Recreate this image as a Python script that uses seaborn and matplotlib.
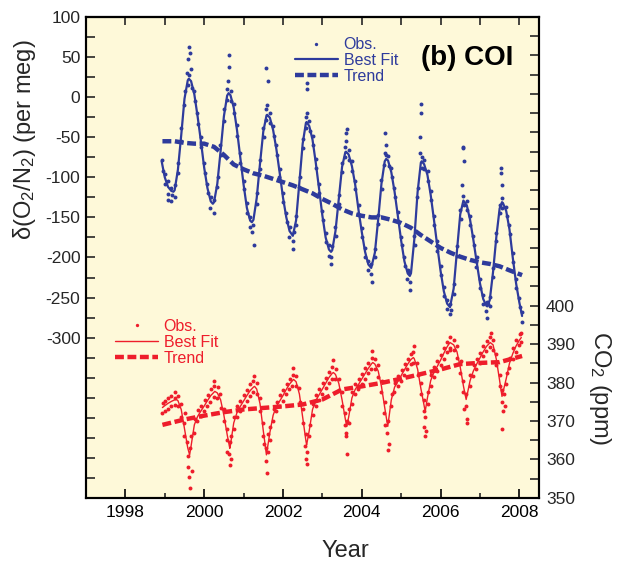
import matplotlib
matplotlib.use("Agg")
import matplotlib.pyplot as plt
import seaborn as sns
from matplotlib.lines import Line2D

# ---------------- data ----------------
o2_fit_year = [
    1998.92, 1999.0, 1999.083, 1999.167, 1999.22, 1999.25, 1999.333, 1999.417, 1999.5, 1999.583, 1999.61, 1999.667, 1999.75, 1999.833, 1999.917,
    2000.0, 2000.083, 2000.167, 2000.22, 2000.25, 2000.333, 2000.417, 2000.5, 2000.583, 2000.62, 2000.667, 2000.75, 2000.833, 2000.917,
    2001.0, 2001.083, 2001.167, 2001.21, 2001.25, 2001.333, 2001.417, 2001.5, 2001.583, 2001.6, 2001.667, 2001.75, 2001.833, 2001.917,
    2002.0, 2002.083, 2002.167, 2002.25, 2002.333, 2002.417, 2002.5, 2002.583, 2002.6, 2002.667, 2002.75, 2002.833, 2002.917,
    2003.0, 2003.083, 2003.167, 2003.22, 2003.25, 2003.333, 2003.417, 2003.5, 2003.583, 2003.6, 2003.667, 2003.75, 2003.833, 2003.917,
    2004.0, 2004.083, 2004.167, 2004.24, 2004.333, 2004.417, 2004.5, 2004.583, 2004.62, 2004.667, 2004.75, 2004.833, 2004.917,
    2005.0, 2005.083, 2005.167, 2005.22, 2005.25, 2005.333, 2005.417, 2005.5, 2005.52, 2005.583, 2005.667, 2005.75, 2005.833, 2005.917,
    2006.0, 2006.083, 2006.167, 2006.24, 2006.333, 2006.417, 2006.5, 2006.58, 2006.667, 2006.75, 2006.833, 2006.917,
    2007.0, 2007.083, 2007.167, 2007.19, 2007.25, 2007.333, 2007.417, 2007.5, 2007.56, 2007.583, 2007.667, 2007.75, 2007.833, 2007.917,
    2008.0, 2008.07]
o2_fit_val = [
    -80, -100, -112, -117, -118, -116, -90.5, -47.5, -2, 21, 23, 20, 3.5, -24, -55,
    -88, -113.5, -130, -133, -131, -108, -67, -24, 2, 5, 2.5, -13, -41, -75.5,
    -109, -138, -154, -156, -153, -126, -83, -43, -22.5, -22, -25.6, -41, -65, -94.5,
    -125, -149.6, -167, -173, -153.7, -106, -58, -32, -31, -36, -53, -82, -114.6,
    -147.6, -175, -190, -193, -191, -167, -127, -87, -68.6, -68, -71.5, -86, -109, -140.5,
    -168, -192.7, -208.7, -213, -194, -152.5, -108, -80, -77, -79, -93.6, -118, -148.5,
    -179, -204.8, -220, -223, -219.6, -178, -118.6, -81.7, -80, -83.6, -97, -122, -153, -185.6,
    -216.5, -242, -257.6, -262, -238.7, -191.5, -146, -129, -135, -153, -178, -205.6,
    -232, -251.8, -260.5, -261, -253, -218, -174, -138.8, -131, -132, -142, -165, -200, -232,
    -256, -273]

o2_trend_year = [1998.94, 1999.25, 1999.5, 1999.75, 2000.0, 2000.25, 2000.5, 2000.75, 2001.0, 2001.25,
                 2001.5, 2001.75, 2002.0, 2002.25, 2002.5, 2002.75, 2003.0, 2003.25, 2003.5, 2003.75,
                 2004.0, 2004.25, 2004.5, 2004.75, 2005.0, 2005.25, 2005.5, 2005.75, 2006.0, 2006.25,
                 2006.5, 2006.75, 2007.0, 2007.25, 2007.5, 2007.75, 2008.07]
o2_trend_val = [-55, -55, -57, -58, -58, -62, -72, -84, -90, -95,
                -98, -102, -106, -110, -115, -120, -127, -133, -140, -145,
                -148, -150, -150, -153, -157, -163, -172, -180, -188, -194,
                -199, -203, -206, -208, -211, -216, -222]

o2_obs_year = [
    1998.93, 1998.95,
    1999.00, 1999.01, 1999.07, 1999.08, 1999.09, 1999.16, 1999.17, 1999.18, 1999.25, 1999.26, 1999.33, 1999.34, 1999.41, 1999.42, 1999.50, 1999.51, 1999.57, 1999.58, 1999.59, 1999.61, 1999.62, 1999.63, 1999.67, 1999.68, 1999.75, 1999.76, 1999.83, 1999.84, 1999.91, 1999.92,
    2000.00, 2000.01, 2000.08, 2000.09, 2000.16, 2000.17, 2000.24, 2000.25, 2000.33, 2000.34, 2000.41, 2000.42, 2000.50, 2000.51, 2000.58, 2000.59, 2000.61, 2000.62, 2000.63, 2000.67, 2000.68, 2000.75, 2000.76, 2000.83, 2000.84, 2000.91, 2000.92,
    2001.00, 2001.01, 2001.08, 2001.09, 2001.16, 2001.17, 2001.22, 2001.23, 2001.26, 2001.33, 2001.34, 2001.41, 2001.42, 2001.50, 2001.51, 2001.56, 2001.57, 2001.58, 2001.60, 2001.61, 2001.67, 2001.68, 2001.75, 2001.76, 2001.83, 2001.84, 2001.91, 2001.92,
    2002.00, 2002.01, 2002.08, 2002.09, 2002.16, 2002.17, 2002.25, 2002.26, 2002.27, 2002.33, 2002.34, 2002.41, 2002.42, 2002.50, 2002.51, 2002.58, 2002.59, 2002.60, 2002.61, 2002.62, 2002.67, 2002.68, 2002.75, 2002.76, 2002.83, 2002.84, 2002.91, 2002.92,
    2003.00, 2003.01, 2003.08, 2003.09, 2003.16, 2003.17, 2003.22, 2003.23, 2003.24, 2003.33, 2003.34, 2003.41, 2003.42, 2003.50, 2003.51, 2003.57, 2003.58, 2003.59, 2003.61, 2003.62, 2003.67, 2003.68, 2003.75, 2003.76, 2003.83, 2003.84, 2003.91, 2003.92,
    2004.00, 2004.01, 2004.08, 2004.09, 2004.16, 2004.17, 2004.23, 2004.24, 2004.25, 2004.33, 2004.34, 2004.41, 2004.42, 2004.50, 2004.51, 2004.57, 2004.58, 2004.59, 2004.61, 2004.62, 2004.67, 2004.68, 2004.75, 2004.76, 2004.83, 2004.84, 2004.91, 2004.92,
    2005.00, 2005.01, 2005.08, 2005.09, 2005.16, 2005.17, 2005.21, 2005.22, 2005.23, 2005.33, 2005.34, 2005.41, 2005.42, 2005.48, 2005.49, 2005.50, 2005.51, 2005.52, 2005.53, 2005.58, 2005.59, 2005.67, 2005.68, 2005.75, 2005.76, 2005.83, 2005.84, 2005.91, 2005.92,
    2006.00, 2006.01, 2006.08, 2006.09, 2006.16, 2006.17, 2006.24, 2006.25, 2006.26, 2006.33, 2006.34, 2006.41, 2006.42, 2006.50, 2006.51, 2006.55, 2006.56, 2006.57, 2006.58, 2006.59, 2006.60, 2006.67, 2006.68, 2006.75, 2006.76, 2006.83, 2006.84, 2006.91, 2006.92,
    2007.00, 2007.01, 2007.08, 2007.09, 2007.16, 2007.17, 2007.19, 2007.20, 2007.25, 2007.26, 2007.33, 2007.34, 2007.41, 2007.42, 2007.50, 2007.51, 2007.53, 2007.54, 2007.55, 2007.56, 2007.57, 2007.67, 2007.68, 2007.75, 2007.76, 2007.83, 2007.84, 2007.91, 2007.92,
    2008.00, 2008.01, 2008.06, 2008.07]
o2_obs_val = [
    -78, -92,
    -96, -108, -128, -105, -121, -113, -130, -122, -110, -124, -95, -82, -38, -55, -10, 8, 30, 15, 47, 28, 63, 55, 35, 12, 8, -5, -20, -33, -62, -50,
    -82, -95, -108, -120, -138, -125, -145, -128, -112, -100, -60, -72, -30, -15, 10, -4, 20, 38, 52, 8, -5, -8, -20, -35, -48, -82, -70,
    -104, -115, -132, -145, -162, -150, -168, -160, -185, -120, -133, -90, -78, -38, -50, 37, -15, -28, -10, 20, -20, -32, -36, -48, -60, -72, -100, -90,
    -120, -131, -145, -156, -175, -162, -180, -190, -168, -148, -160, -112, -100, -52, -64, -25, -38, 10, -20, 18, -30, -42, -48, -60, -77, -88, -120, -108,
    -142, -153, -170, -181, -198, -185, -208, -200, -186, -162, -173, -133, -122, -82, -93, -62, -75, -45, -55, -40, -66, -78, -80, -92, -104, -115, -146, -135,
    -163, -174, -188, -199, -215, -204, -208, -220, -230, -189, -200, -158, -147, -103, -114, -85, -70, -45, -60, -72, -74, -86, -88, -100, -113, -124, -155, -143,
    -174, -185, -200, -211, -227, -215, -218, -230, -240, -173, -184, -125, -113, -70, -50, -20, -8, -75, -88, -78, -90, -92, -104, -117, -128, -148, -159, -192, -180,
    -211, -222, -237, -248, -264, -253, -258, -270, -266, -233, -245, -198, -186, -141, -152, -110, -62, -64, -123, -80, -135, -130, -141, -148, -159, -173, -184, -212, -200,
    -227, -238, -247, -258, -267, -256, -275, -258, -249, -260, -213, -224, -180, -169, -134, -145, -88, -95, -110, -126, -138, -137, -148, -160, -171, -195, -206, -238, -227,
    -251, -262, -268, -280]

co2_fit_year = [
    1998.94, 1999.0, 1999.083, 1999.167, 1999.25, 1999.29, 1999.333, 1999.417, 1999.5, 1999.583, 1999.63, 1999.667, 1999.75, 1999.833, 1999.917,
    2000.0, 2000.083, 2000.167, 2000.25, 2000.27, 2000.333, 2000.417, 2000.5, 2000.583, 2000.65, 2000.667, 2000.75, 2000.833, 2000.917,
    2001.0, 2001.083, 2001.167, 2001.25, 2001.28, 2001.333, 2001.417, 2001.5, 2001.58, 2001.667, 2001.75, 2001.833, 2001.917,
    2002.0, 2002.083, 2002.167, 2002.25, 2002.27, 2002.333, 2002.417, 2002.5, 2002.583, 2002.6, 2002.667, 2002.75, 2002.833, 2002.917,
    2003.0, 2003.083, 2003.167, 2003.25, 2003.28, 2003.333, 2003.417, 2003.5, 2003.583, 2003.62, 2003.667, 2003.75, 2003.833, 2003.917,
    2004.0, 2004.083, 2004.167, 2004.25, 2004.28, 2004.333, 2004.417, 2004.5, 2004.583, 2004.66, 2004.75, 2004.833, 2004.917,
    2005.0, 2005.083, 2005.167, 2005.25, 2005.31, 2005.333, 2005.417, 2005.5, 2005.583, 2005.61, 2005.667, 2005.75, 2005.833, 2005.917,
    2006.0, 2006.083, 2006.167, 2006.24, 2006.333, 2006.417, 2006.5, 2006.583, 2006.65, 2006.75, 2006.833, 2006.917,
    2007.0, 2007.083, 2007.167, 2007.26, 2007.333, 2007.417, 2007.5, 2007.56, 2007.667, 2007.75, 2007.833, 2007.917,
    2008.0, 2008.05]
co2_fit_val = [
    373.5, 374.0, 374.6, 375.1, 375.5, 375.6, 375.3, 373.0, 368.0, 363.0, 361.2, 363.5, 369.0, 371.2, 372.6,
    373.9, 375.3, 376.6, 377.5, 377.7, 377.3, 375.5, 371.5, 366.5, 362.9, 363.8, 369.5, 372.2, 373.8,
    375.2, 376.6, 377.9, 378.8, 379.0, 378.3, 374.5, 367.5, 361.2, 367.0, 371.5, 373.8, 375.2,
    376.6, 378.2, 379.6, 380.6, 380.8, 380.2, 377.0, 371.0, 364.8, 363.8, 367.5, 373.0, 375.3, 376.8,
    378.3, 379.8, 381.3, 382.4, 382.6, 382.1, 379.8, 375.5, 370.5, 368.6, 371.0, 376.0, 378.2, 379.5,
    380.9, 382.3, 383.7, 384.9, 385.2, 384.8, 383.0, 379.0, 373.5, 368.6, 375.5, 378.8, 380.3,
    381.8, 383.3, 384.8, 386.0, 386.5, 386.2, 383.5, 378.5, 374.0, 372.5, 376.0, 380.5, 382.7, 384.2,
    385.8, 387.6, 389.3, 390.4, 389.8, 388.0, 384.0, 379.0, 375.6, 380.5, 383.0, 384.8,
    386.4, 388.0, 389.4, 390.4, 389.8, 386.0, 380.5, 376.4, 381.0, 385.0, 387.5, 389.5,
    391.0, 391.7]

co2_trend_year = [1998.94, 1999.5, 2000.0, 2000.5, 2001.0, 2001.5, 2002.0, 2002.5, 2003.0, 2003.5,
                  2004.0, 2004.5, 2005.0, 2005.5, 2006.0, 2006.5, 2007.0, 2007.5, 2008.07]
co2_trend_val = [369.0, 370.4, 371.4, 372.3, 373.0, 373.4, 373.8, 374.3, 375.6, 378.2,
                 379.0, 379.9, 381.0, 382.2, 383.4, 384.8, 385.1, 385.3, 386.9]

co2_obs_year = [
    1998.93, 1998.95,
    1999.00, 1999.01, 1999.08, 1999.09, 1999.16, 1999.17, 1999.25, 1999.26, 1999.27, 1999.33, 1999.34, 1999.41, 1999.42, 1999.49, 1999.50, 1999.51, 1999.57, 1999.58, 1999.59, 1999.62, 1999.63, 1999.64, 1999.67, 1999.68, 1999.75, 1999.76, 1999.83, 1999.84, 1999.91, 1999.92,
    2000.00, 2000.01, 2000.08, 2000.09, 2000.16, 2000.17, 2000.24, 2000.25, 2000.26, 2000.33, 2000.34, 2000.41, 2000.42, 2000.50, 2000.51, 2000.57, 2000.58, 2000.59, 2000.64, 2000.65, 2000.66, 2000.67, 2000.68, 2000.75, 2000.76, 2000.83, 2000.84, 2000.91, 2000.92,
    2001.00, 2001.01, 2001.08, 2001.09, 2001.16, 2001.17, 2001.24, 2001.25, 2001.26, 2001.33, 2001.34, 2001.41, 2001.42, 2001.49, 2001.50, 2001.51, 2001.57, 2001.58, 2001.59, 2001.62, 2001.63, 2001.67, 2001.68, 2001.75, 2001.76, 2001.83, 2001.84, 2001.91, 2001.92,
    2002.00, 2002.01, 2002.08, 2002.09, 2002.16, 2002.17, 2002.24, 2002.25, 2002.26, 2002.33, 2002.34, 2002.41, 2002.42, 2002.50, 2002.51, 2002.57, 2002.58, 2002.59, 2002.60, 2002.61, 2002.67, 2002.68, 2002.75, 2002.76, 2002.83, 2002.84, 2002.91, 2002.92,
    2003.00, 2003.01, 2003.08, 2003.09, 2003.16, 2003.17, 2003.24, 2003.25, 2003.26, 2003.33, 2003.34, 2003.41, 2003.42, 2003.50, 2003.51, 2003.57, 2003.58, 2003.59, 2003.61, 2003.62, 2003.63, 2003.67, 2003.68, 2003.75, 2003.76, 2003.83, 2003.84, 2003.91, 2003.92,
    2004.00, 2004.01, 2004.08, 2004.09, 2004.16, 2004.17, 2004.24, 2004.25, 2004.26, 2004.33, 2004.34, 2004.41, 2004.42, 2004.50, 2004.51, 2004.57, 2004.58, 2004.59, 2004.65, 2004.66, 2004.67, 2004.68, 2004.75, 2004.76, 2004.83, 2004.84, 2004.91, 2004.92,
    2005.00, 2005.01, 2005.08, 2005.09, 2005.16, 2005.17, 2005.25, 2005.26, 2005.30, 2005.31, 2005.32, 2005.41, 2005.42, 2005.50, 2005.51, 2005.57, 2005.58, 2005.59, 2005.60, 2005.61, 2005.62, 2005.67, 2005.68, 2005.75, 2005.76, 2005.83, 2005.84, 2005.91, 2005.92,
    2006.00, 2006.01, 2006.08, 2006.09, 2006.16, 2006.17, 2006.23, 2006.24, 2006.25, 2006.33, 2006.34, 2006.41, 2006.42, 2006.50, 2006.51, 2006.57, 2006.58, 2006.59, 2006.64, 2006.65, 2006.66, 2006.67, 2006.75, 2006.76, 2006.83, 2006.84, 2006.91, 2006.92,
    2007.00, 2007.01, 2007.08, 2007.09, 2007.16, 2007.17, 2007.25, 2007.26, 2007.27, 2007.33, 2007.34, 2007.41, 2007.42, 2007.50, 2007.51, 2007.55, 2007.56, 2007.57, 2007.58, 2007.62, 2007.63, 2007.67, 2007.68, 2007.75, 2007.76, 2007.83, 2007.84, 2007.91, 2007.92,
    2008.00, 2008.01, 2008.04, 2008.05]
co2_obs_val = [
    372.0, 374.8,
    372.5, 375.3, 373.2, 376.0, 374.0, 376.5, 374.2, 377.5, 376.0, 374.0, 376.4, 374.5, 371.0, 369.5, 366.0, 372.0, 364.5, 358.0, 361.0, 355.5, 352.5, 363.0, 366.0, 357.0, 367.0, 370.5, 370.0, 372.8, 371.2, 374.0,
    372.5, 375.5, 374.0, 376.8, 375.0, 378.2, 376.2, 379.0, 380.5, 376.0, 378.8, 377.0, 373.5, 370.0, 373.2, 365.0, 368.0, 362.0, 361.5, 364.5, 358.5, 366.0, 360.0, 368.0, 371.0, 371.0, 373.8, 372.5, 375.2,
    374.0, 376.8, 375.2, 378.0, 376.5, 379.5, 377.5, 380.5, 381.8, 377.0, 379.8, 376.0, 372.5, 366.0, 369.5, 364.0, 359.5, 363.0, 356.5, 362.0, 366.5, 368.5, 365.0, 370.0, 373.0, 372.5, 375.0, 374.0, 376.8,
    375.2, 378.0, 377.0, 379.6, 378.2, 381.0, 379.2, 382.0, 383.8, 379.0, 381.6, 378.5, 375.0, 369.5, 373.0, 363.5, 366.5, 360.0, 362.0, 358.8, 366.0, 369.0, 371.5, 374.5, 374.0, 376.8, 375.5, 378.2,
    377.0, 379.8, 378.5, 381.2, 380.0, 382.8, 381.0, 384.0, 385.8, 381.0, 383.5, 381.0, 378.0, 374.0, 377.5, 369.0, 372.0, 366.0, 367.0, 370.0, 361.5, 369.5, 373.0, 374.5, 377.5, 377.0, 379.5, 378.2, 381.0,
    379.5, 382.3, 381.0, 383.8, 382.5, 385.0, 383.5, 386.5, 388.2, 383.5, 386.0, 384.5, 381.5, 377.5, 380.5, 372.0, 375.0, 369.0, 367.0, 370.0, 362.5, 364.0, 374.0, 377.0, 377.5, 380.0, 379.0, 381.8,
    380.5, 383.2, 382.0, 384.8, 383.5, 386.0, 384.8, 387.5, 385.2, 388.0, 389.5, 385.0, 382.0, 377.0, 380.0, 372.5, 375.5, 368.5, 371.0, 366.0, 367.5, 374.5, 377.5, 379.0, 382.0, 381.5, 384.0, 383.0, 385.6,
    384.5, 387.2, 386.2, 389.0, 388.0, 390.6, 389.0, 391.8, 388.5, 388.5, 391.0, 389.5, 386.5, 382.5, 385.5, 377.5, 380.5, 373.0, 374.0, 377.0, 369.5, 370.5, 379.0, 382.0, 381.8, 384.5, 383.5, 386.2,
    385.0, 387.8, 386.8, 389.5, 388.2, 390.8, 389.2, 391.8, 392.8, 388.5, 391.0, 387.5, 384.5, 379.0, 382.0, 375.0, 378.0, 368.0, 372.5, 377.0, 374.0, 379.5, 382.5, 383.8, 386.5, 386.2, 389.0, 388.0, 391.0,
    389.8, 392.5, 390.5, 392.8]

x_major = [1998, 2000, 2002, 2004, 2006, 2008]
x_minor = [1999, 2001, 2003, 2005, 2007]
legend_labels = ["Obs.", "Best Fit", "Trend"]

# ---------------- style ----------------
sns.set_style("ticks")
plt.rcParams["font.family"] = ["Liberation Sans", "DejaVu Sans"]
plt.rcParams["mathtext.fontset"] = "custom"
plt.rcParams["mathtext.rm"] = "Liberation Sans"
plt.rcParams["mathtext.it"] = "Liberation Sans:italic"
plt.rcParams["mathtext.bf"] = "Liberation Sans:bold"
plt.rcParams["axes.unicode_minus"] = False

BLUE = "#2E3B9C"
RED = "#EE1D2B"
BG = "#FEF9D9"
DASH = (2.0, 0.8)
TICK_FS = 12.5

fig = plt.figure(figsize=(6.21, 5.63), dpi=100)
fig.patch.set_facecolor("white")
ax = fig.add_axes([0.1385, 0.1155, 0.7295, 0.8543])
ax.set_facecolor(BG)
ax2 = ax.twinx()

# O2 series (left axis)
sns.scatterplot(x=o2_obs_year, y=o2_obs_val, ax=ax, color=BLUE, s=8, linewidth=0, marker="o", zorder=2)
sns.lineplot(x=o2_fit_year, y=o2_fit_val, ax=ax, color=BLUE, lw=1.6, zorder=3)
sns.lineplot(x=o2_trend_year, y=o2_trend_val, ax=ax, color=BLUE, lw=3.2, zorder=3)
ax.lines[-1].set_dashes(DASH)

# CO2 series (right axis)
sns.scatterplot(x=co2_obs_year, y=co2_obs_val, ax=ax2, color=RED, s=8, linewidth=0, marker="o", zorder=2)
sns.lineplot(x=co2_fit_year, y=co2_fit_val, ax=ax2, color=RED, lw=1.0, zorder=3)
sns.lineplot(x=co2_trend_year, y=co2_trend_val, ax=ax2, color=RED, lw=3.2, zorder=3)
ax2.lines[-1].set_dashes(DASH)

# ---------------- axes ----------------
ax.set_xlim(1997, 2008.5)
ax.set_ylim(-500, 100)
ax2.set_ylim(350, 475)

ax.set_xticks(x_major)
ax.set_xticks(x_minor, minor=True)
ax.set_xticklabels([str(v) for v in x_major])
ax.tick_params(axis="x", which="major", direction="in", length=6.5, width=1.2,
               labelsize=TICK_FS, pad=5, bottom=True, top=False, colors="black")
ax.tick_params(axis="x", which="minor", direction="in", length=3.5, width=1.2,
               bottom=True, top=False)

sec = ax.secondary_xaxis("top")
sec.set_xticks(list(range(1998, 2009)))
sec.set_xticklabels([])
sec.tick_params(direction="in", length=6, width=1.2)
sec.spines["top"].set_linewidth(1.5)

yl = list(range(-475, 101, 25))
ax.set_yticks(yl)
ax.set_yticklabels([str(v) if (v >= -300 and v % 50 == 0) else "" for v in yl])
ax.tick_params(axis="y", direction="in", length=6.5, width=1.2, labelsize=TICK_FS, pad=4,
               left=True, right=False)

yr = list(range(350, 476, 5))
ax2.set_yticks(yr)
ax2.set_yticklabels([str(v) if (v <= 400 and v % 10 == 0) else "" for v in yr])
ax2.tick_params(axis="y", direction="in", length=6.5, width=1.2, labelsize=TICK_FS, pad=5,
                right=True, left=False)

for a in (ax, ax2):
    for s in a.spines.values():
        s.set_linewidth(1.5)
        s.set_color("black")
        s.set_visible(True)

# labels
ax.set_xlabel("Year", fontsize=17)
ax.xaxis.set_label_coords(0.572, -0.110)
ax.xaxis.label.set_verticalalignment("center")

ax.set_ylabel(r"δ(O$_2$/N$_2$) (per meg)", fontsize=17)
ax.yaxis.set_label_coords(-0.135, 0.744)
ax.yaxis.label.set_verticalalignment("center")

ax2.set_ylabel(r"CO$_2$ (ppm)", fontsize=17, rotation=270)
ax2.yaxis.set_label_coords(1.135, 0.229)
ax2.yaxis.label.set_verticalalignment("center")

ax.text(0.841, 0.915, "(b) COI", transform=ax.transAxes, fontsize=20,
        fontweight="bold", ha="center", va="center", color="black")

# legends
def make_handles(color, fit_lw):
    return [
        Line2D([], [], marker="o", ms=2.4, ls="none", color=color, markeredgewidth=0),
        Line2D([], [], color=color, lw=fit_lw),
        Line2D([], [], color=color, lw=3.2, dashes=DASH),
    ]

leg1 = ax2.legend(make_handles(BLUE, 1.6), legend_labels, loc="upper left",
                  bbox_to_anchor=(0.461, 0.958), bbox_transform=ax.transAxes,
                  frameon=False, fontsize=11.5, labelcolor=BLUE, handlelength=2.7,
                  handletextpad=0.35, labelspacing=0.05, borderpad=0, borderaxespad=0)
ax2.add_artist(leg1)
leg2 = ax2.legend(make_handles(RED, 1.0), legend_labels, loc="upper left",
                  bbox_to_anchor=(0.064, 0.372), bbox_transform=ax.transAxes,
                  frameon=False, fontsize=11.5, labelcolor=RED, handlelength=2.7,
                  handletextpad=0.35, labelspacing=0.05, borderpad=0, borderaxespad=0)

fig.savefig("out.png", dpi=100, facecolor="white")
